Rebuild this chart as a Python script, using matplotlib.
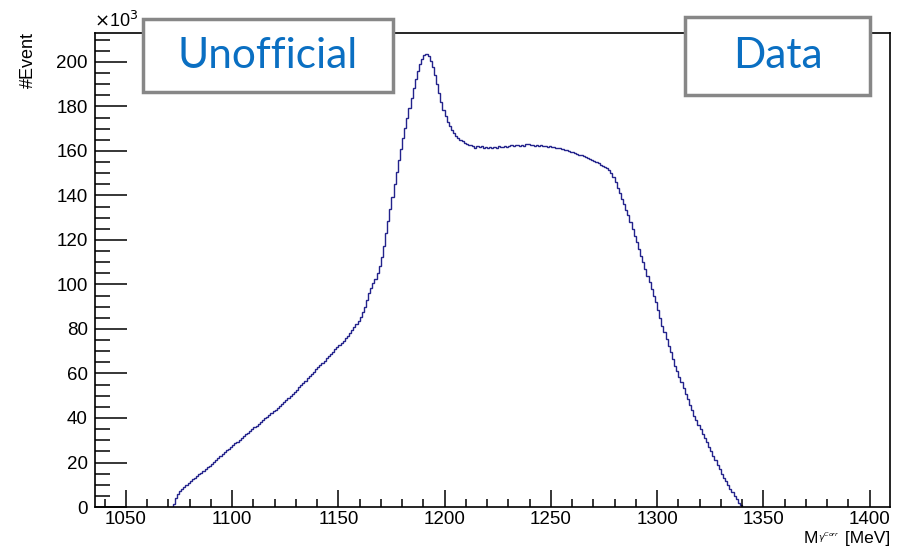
import matplotlib.pyplot as plt
from matplotlib.patches import Rectangle
from matplotlib.ticker import MultipleLocator
import numpy as np

# histogram: 1 MeV bins starting at 1072 MeV, counts in units of 1e3
bin_start = 1072
bin_width = 1
counts = [
    1.5, 4, 6, 7, 8, 9, 10, 11, 11.8, 12.5,
    13.2, 14, 14.7, 15.4, 16.2, 17, 17.8, 18.6, 19.4, 20.2,
    21, 21.9, 22.8, 23.7, 24.6, 25.4, 26.2, 27, 27.8, 28.6,
    29.4, 30.2, 31, 31.8, 32.6, 33.4, 34.2, 35, 35.8, 36.6,
    37.4, 38.2, 39, 39.8, 40.6, 41.4, 42.2, 43, 43.8, 44.6,
    45.4, 46.3, 47.2, 48.1, 49, 49.9, 50.8, 51.8, 52.8, 53.8,
    54.8, 55.8, 56.8, 57.8, 58.8, 59.8, 60.8, 61.8, 62.8, 63.8,
    64.8, 65.8, 66.8, 67.8, 68.8, 69.8, 70.8, 71.8, 72.8, 73.8,
    74.8, 75.9, 77, 78.2, 79.4, 80.8, 82.2, 83.8, 85.5, 87.5,
    90, 93, 96, 98.5, 100.5, 102.5, 105, 108.5, 112.5, 117.5,
    123, 128.5, 134, 139.5, 145, 150.5, 156, 161, 166, 170.5,
    175, 179.5, 184, 188.5, 192.5, 196, 199, 201.5, 203, 203.5,
    202.5, 200.5, 197.5, 194, 190, 186, 182, 178.5, 175.5, 173,
    171, 169.5, 168, 166.8, 165.8, 165, 164.3, 163.7, 163.2, 162.8,
    162.5, 162.2, 161.5, 162.3, 161.6, 162, 161.2, 161.8, 161.4, 161.7,
    161.2, 161.8, 161.5, 162.2, 161.6, 161.9, 162.4, 161.8, 162.3, 162.6,
    162.1, 162.5, 162.8, 162.2, 162.6, 162.3, 162.9, 163.1, 162.5, 162.8,
    162.4, 162.7, 162.3, 162.6, 162.1, 162.4, 161.9, 162.1, 161.7, 161.8,
    161.4, 161.5, 161.1, 160.9, 160.6, 160.4, 160.1, 159.7, 159.4, 159,
    158.7, 158.3, 158, 157.5, 157.1, 156.7, 156.3, 155.8, 155.4, 154.9,
    154.4, 153.9, 153.4, 152.8, 152.2, 151.3, 150.2, 148.5, 146, 143.5,
    141, 138.5, 136, 133.5, 131, 128, 125, 122, 119, 116,
    113, 110, 107, 104, 101, 98, 95, 92, 88.5, 85,
    81.5, 78.5, 75.5, 72.5, 69.5, 66.5, 63.5, 61, 58.5, 56,
    53.5, 51, 48.5, 46, 43.5, 41, 39, 37, 35, 33,
    31, 29, 27, 25, 23, 21, 19, 17, 15, 13.2,
    11.5, 9.8, 8.2, 6.6, 5, 3.5, 2, 0.8,
]
edges = bin_start + bin_width * np.arange(len(counts) + 1)

plt.rcParams['font.family'] = ['Liberation Sans', 'DejaVu Sans']

fig = plt.figure(figsize=(9.05, 5.47), dpi=100)
ax = fig.add_axes([0.1046, 0.0731, 0.9834 - 0.1046, 0.9397 - 0.0731])

ax.stairs(counts, edges, color='#23238c', lw=1.0, baseline=0)

ax.set_xlim(1035.3, 1409.6)
ax.set_ylim(0, 213)

ax.xaxis.set_major_locator(MultipleLocator(50))
ax.xaxis.set_minor_locator(MultipleLocator(10))
ax.yaxis.set_major_locator(MultipleLocator(20))
ax.yaxis.set_minor_locator(MultipleLocator(5))
ax.tick_params(axis='x', which='major', direction='in', length=12, width=1.1, labelsize=13.5, pad=3)
ax.tick_params(axis='x', which='minor', direction='in', length=6, width=1.1)
ax.tick_params(axis='y', which='major', direction='in', length=23, width=1.1, labelsize=13.5, pad=5)
ax.tick_params(axis='y', which='minor', direction='in', length=11, width=1.1)
for s in ax.spines.values():
    s.set_linewidth(1.2)

fig.text(0.104, 0.944, r'$\times$10$^{3}$', fontsize=13, ha='left', va='bottom')
fig.text(0.031, 0.89, '#Event', fontsize=13, rotation=90, ha='center', va='center')

# x title built right to left so the tiny subscript does not push the box up
t_unit = ax.annotate(' [MeV]', xy=(0.9834, 0.002), xycoords='figure fraction',
                     ha='right', va='bottom', fontsize=12.5, annotation_clip=False)
t_sub = ax.annotate(r'$\gamma^{Corr}$', xy=(0, 0.05), xycoords=t_unit,
                    ha='right', va='bottom', fontsize=6.5, annotation_clip=False)
ax.annotate('M', xy=(0, 0), xycoords=(t_sub, t_unit),
            ha='right', va='bottom', fontsize=12.5, annotation_clip=False)

# label boxes on top
W, H = 905, 547
for (x0, y0, x1, y1, label) in [(143, 19, 393, 92, 'Unofficial'), (685, 17, 870, 95, 'Data')]:
    r = Rectangle((x0 / W, 1 - y1 / H), (x1 - x0) / W, (y1 - y0) / H,
                  transform=fig.transFigure, facecolor='white', edgecolor='#878787', lw=2.5, zorder=10)
    fig.patches.append(r)
    fig.text((x0 + x1) / 2 / W, 1 - (y0 + y1) / 2 / H, label, fontsize=30.5, color='#0a6fc2',
             family=['Lato', 'DejaVu Sans'], ha='center', va='center', zorder=11)

fig.savefig('out.png', dpi=100)
